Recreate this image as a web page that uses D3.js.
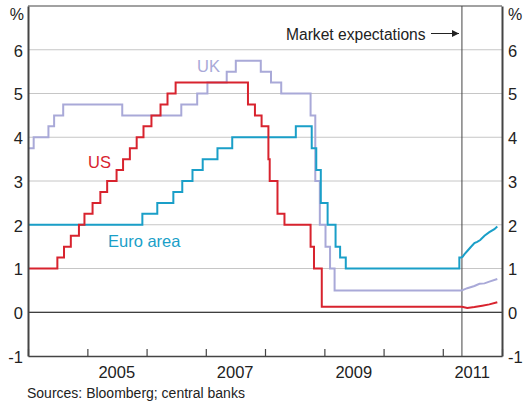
<!DOCTYPE html>
<html>
<body style="margin:0">
<meta charset="UTF-8">
<title>Policy Rates</title>
<style>
    body {
        font-family: "Liberation Sans", Arial, sans-serif;
        background: white;
    }
    .tick text {
        font-family: "Liberation Sans", Arial, sans-serif;
        fill: #222;
    }
</style>
<div class="container"></div>
<script src="https://d3js.org/d3.v7.min.js"></script>
<script>

    // policy rates, step changes (date, %)
    var usRates = [
        ["2004-01-01", 1.00], ["2004-06-30", 1.25], ["2004-08-10", 1.50], ["2004-09-21", 1.75],
        ["2004-11-10", 2.00], ["2004-12-14", 2.25], ["2005-02-02", 2.50], ["2005-03-22", 2.75],
        ["2005-05-03", 3.00], ["2005-06-30", 3.25], ["2005-08-09", 3.50], ["2005-09-20", 3.75],
        ["2005-11-01", 4.00], ["2005-12-13", 4.25], ["2006-01-31", 4.50], ["2006-03-28", 4.75],
        ["2006-05-10", 5.00], ["2006-06-29", 5.25], ["2007-09-18", 4.75], ["2007-10-31", 4.50],
        ["2007-12-11", 4.25], ["2008-01-22", 3.50], ["2008-01-30", 3.00], ["2008-03-18", 2.25],
        ["2008-04-30", 2.00], ["2008-10-08", 1.50], ["2008-10-29", 1.00], ["2008-12-16", 0.125],
        ["2011-04-29", 0.125]
    ];

    var ukRates = [
        ["2004-01-01", 3.75], ["2004-02-05", 4.00], ["2004-05-06", 4.25], ["2004-06-10", 4.50],
        ["2004-08-05", 4.75], ["2005-08-04", 4.50], ["2006-08-03", 4.75], ["2006-11-09", 5.00],
        ["2007-01-11", 5.25], ["2007-05-10", 5.50], ["2007-07-05", 5.75], ["2007-12-06", 5.50],
        ["2008-02-07", 5.25], ["2008-04-10", 5.00], ["2008-10-08", 4.50], ["2008-11-06", 3.00],
        ["2008-12-04", 2.00], ["2009-01-08", 1.50], ["2009-02-05", 1.00], ["2009-03-05", 0.50],
        ["2011-04-29", 0.50]
    ];

    var euroRates = [
        ["2004-01-01", 2.00], ["2005-12-06", 2.25], ["2006-03-08", 2.50], ["2006-06-15", 2.75],
        ["2006-08-09", 3.00], ["2006-10-11", 3.25], ["2006-12-13", 3.50], ["2007-03-14", 3.75],
        ["2007-06-13", 4.00], ["2008-07-09", 4.25], ["2008-10-15", 3.75], ["2008-11-12", 3.25],
        ["2008-12-10", 2.50], ["2009-01-21", 2.00], ["2009-03-11", 1.50], ["2009-04-08", 1.25],
        ["2009-05-13", 1.00], ["2011-04-13", 1.25], ["2011-04-29", 1.25]
    ];

    // market expectations
    var usExpect = [
        ["2011-04-29", 0.125], ["2011-06-01", 0.10], ["2011-07-15", 0.12], ["2011-09-01", 0.15],
        ["2011-10-15", 0.18], ["2011-12-03", 0.23]
    ];
    var ukExpect = [
        ["2011-04-29", 0.50], ["2011-06-01", 0.55], ["2011-07-15", 0.60], ["2011-08-15", 0.65],
        ["2011-09-15", 0.66], ["2011-10-15", 0.70], ["2011-12-03", 0.76]
    ];
    var euroExpect = [
        ["2011-04-29", 1.25], ["2011-05-15", 1.33], ["2011-06-01", 1.40], ["2011-06-20", 1.48],
        ["2011-07-15", 1.58], ["2011-08-01", 1.61], ["2011-08-20", 1.65], ["2011-09-15", 1.75],
        ["2011-10-15", 1.83], ["2011-11-15", 1.90], ["2011-12-03", 1.96]
    ];

    var yTicks = [-1, 0, 1, 2, 3, 4, 5, 6];
    var yearTicks = ["2004", "2005", "2006", "2007", "2008", "2009", "2010", "2011", "2012"];
    var yearLabels = ["2005", "2007", "2009", "2011"];
    var forecastDate = "2011-04-29";

    var width = 523,
        height = 403,
        padLeft = 28, padRight = 502, padTop = 6, padBottom = 356;

    var parse = d3.timeParse("%Y-%m-%d");

    var x = d3.scaleTime()
        .domain([parse("2004-01-01"), parse("2012-01-01")])
        .range([padLeft, padRight]);

    var y = d3.scaleLinear()
        .domain([-1, 7])
        .range([padBottom, padTop]);

    var svg = d3.select(".container")
        .append("svg")
        .attr("width", width)
        .attr("height", height);

    // grid
    svg.selectAll(".grid")
        .data(yTicks.filter(function(d) { return d > -1; }))
        .enter().append("line")
        .attr("x1", padLeft).attr("x2", padRight)
        .attr("y1", function(d) { return y(d); })
        .attr("y2", function(d) { return y(d); })
        .attr("stroke", function(d) { return d === 0 ? "#000" : "#c6c6c6"; })
        .attr("stroke-width", 1);

    // forecast divider
    svg.append("line")
        .attr("x1", x(parse(forecastDate))).attr("x2", x(parse(forecastDate)))
        .attr("y1", padTop).attr("y2", padBottom)
        .attr("stroke", "#444")
        .attr("stroke-width", 1);

    var stepLine = d3.line()
        .x(function(d) { return x(parse(d[0])); })
        .y(function(d) { return y(d[1]); })
        .curve(d3.curveStepAfter);

    var plainLine = d3.line()
        .x(function(d) { return x(parse(d[0])); })
        .y(function(d) { return y(d[1]); });

    var series = [
        { hist: ukRates, exp: ukExpect, color: "#a9a9d8" },
        { hist: euroRates, exp: euroExpect, color: "#1a9fc8" },
        { hist: usRates, exp: usExpect, color: "#d8232e" }
    ];

    series.forEach(function(s) {
        svg.append("path")
            .attr("d", stepLine(s.hist))
            .attr("fill", "none")
            .attr("stroke", s.color)
            .attr("stroke-width", 2);
        svg.append("path")
            .attr("d", plainLine(s.exp))
            .attr("fill", "none")
            .attr("stroke", s.color)
            .attr("stroke-width", 2);
    });

    // frame
    svg.append("line")
        .attr("x1", padLeft).attr("x2", padRight).attr("y1", padTop).attr("y2", padTop)
        .attr("stroke", "#444").attr("stroke-width", 1.2);

    // x axis: ticks at year boundaries, labels mid-year
    svg.append("g")
        .attr("transform", "translate(0," + padBottom + ")")
        .call(d3.axisBottom(x)
            .tickValues(yearTicks.map(function(d) { return parse(d + "-01-01"); }))
            .tickSize(-7)
            .tickSizeOuter(0)
            .tickFormat(""))
        .call(function(g) {
            g.select(".domain").attr("stroke", "#444").attr("stroke-width", 1.6);
            g.selectAll(".tick line").attr("stroke", "#444").attr("stroke-width", 1.2);
        });

    svg.append("g")
        .attr("transform", "translate(0," + padBottom + ")")
        .call(d3.axisBottom(x)
            .tickValues(yearLabels.map(function(d) { return parse(d + "-06-28"); }))
            .tickSize(0)
            .tickPadding(10)
            .tickFormat(d3.timeFormat("%Y")))
        .call(function(g) {
            g.select(".domain").remove();
            g.selectAll(".tick text").attr("font-size", 16.5);
        });

    // y axes (plain hyphen for negatives)
    var yFormat = function(d) { return String(d); };

    svg.append("g")
        .attr("transform", "translate(" + padLeft + ",0)")
        .call(d3.axisLeft(y).tickValues(yTicks).tickSize(0).tickPadding(5).tickFormat(yFormat))
        .call(function(g) {
            g.select(".domain").attr("stroke", "#444").attr("stroke-width", 2);
            g.selectAll(".tick text").attr("font-size", 16.5).attr("dy", "0.38em");
        });

    svg.append("g")
        .attr("transform", "translate(" + padRight + ",0)")
        .call(d3.axisRight(y).tickValues(yTicks).tickSize(0).tickPadding(6).tickFormat(yFormat))
        .call(function(g) {
            g.select(".domain").attr("stroke", "#444").attr("stroke-width", 2);
            g.selectAll(".tick text").attr("font-size", 16.5).attr("dy", "0.38em");
        });

    svg.append("text").attr("x", 24).attr("y", 20).attr("text-anchor", "end")
        .attr("font-size", 16).attr("fill", "#222").text("%");
    svg.append("text").attr("x", 508).attr("y", 20)
        .attr("font-size", 16).attr("fill", "#222").text("%");

    // series labels
    svg.append("text").attr("x", 197).attr("y", 72).attr("font-size", 16.5)
        .attr("fill", "#a9a9d8").text("UK");
    svg.append("text").attr("x", 88).attr("y", 168).attr("font-size", 16.5)
        .attr("fill", "#d8232e").text("US");
    svg.append("text").attr("x", 108).attr("y", 247).attr("font-size", 16.5)
        .attr("fill", "#1a9fc8").text("Euro area");

    // market expectations annotation
    svg.append("defs").append("marker")
        .attr("id", "arrow")
        .attr("viewBox", "0 0 10 10")
        .attr("refX", 10).attr("refY", 5)
        .attr("markerWidth", 7).attr("markerHeight", 7)
        .attr("markerUnits", "userSpaceOnUse")
        .attr("orient", "auto")
        .append("path")
        .attr("d", "M0,0 L10,5 L0,10 z")
        .attr("fill", "#222");

    svg.append("text").attr("x", 286).attr("y", 40).attr("font-size", 15.6)
        .attr("fill", "#222").text("Market expectations");
    svg.append("line")
        .attr("x1", 431).attr("x2", 459).attr("y1", 33.5).attr("y2", 33.5)
        .attr("stroke", "#222").attr("stroke-width", 1)
        .attr("marker-end", "url(#arrow)");

    svg.append("text").attr("x", 27).attr("y", 398).attr("font-size", 14)
        .attr("fill", "#222").text("Sources: Bloomberg; central banks");

</script>
</body>
</html>
